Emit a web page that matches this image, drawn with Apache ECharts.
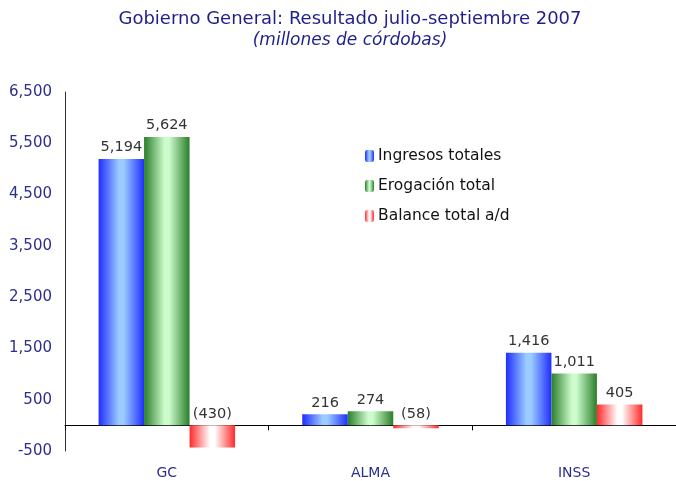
<!DOCTYPE html>
<html>
<head>
<meta charset="utf-8">
<script src="https://cdn.jsdelivr.net/npm/echarts@6/dist/echarts.min.js"></script>
<style>
  html, body { margin: 0; padding: 0; background: #fff; }
  #chart { width: 676px; height: 481px; }
</style>
</head>
<body>
<div id="chart"></div>
<script>
const categories = ['GC', 'ALMA', 'INSS'];
const ingresos = [5194, 216, 1416];
const erogacion = [5624, 274, 1011];
const balance = [-430, -58, 405];
const seriesNames = ['Ingresos totales', 'Erogación total', 'Balance total a/d'];

const font = 'DejaVu Sans';

// horizontal "cylinder" shading like the original spreadsheet chart
const shade = (edge, mid) => new echarts.graphic.LinearGradient(0, 0, 1, 0, [
    { offset: 0, color: edge },
    { offset: 0.45, color: mid },
    { offset: 0.55, color: mid },
    { offset: 1, color: edge }
]);

const fmt = (p) => {
    const v = p.value;
    const s = Math.abs(v).toLocaleString('en-US');
    return v < 0 ? '(' + s + ')' : s;
};

const barLabel = {
    show: true,
    position: 'top',
    distance: 4,
    formatter: fmt,
    color: '#333',
    fontFamily: font,
    fontSize: 14.5
};

const chart = echarts.init(document.getElementById('chart'));
chart.setOption({
    animation: false,
    title: {
        text: 'Gobierno General: Resultado julio-septiembre 2007',
        subtext: '(millones de córdobas)',
        left: 345,
        textAlign: 'center',
        top: 5,
        itemGap: 4,
        textStyle: { color: '#1f1f8a', fontFamily: font, fontSize: 18, fontWeight: 'normal' },
        subtextStyle: { color: '#1f1f8a', fontFamily: font, fontSize: 17, fontStyle: 'italic' }
    },
    legend: {
        orient: 'vertical',
        left: 360,
        top: 143,
        itemWidth: 9,
        itemHeight: 12,
        itemGap: 14,
        textStyle: { color: '#111', fontFamily: font, fontSize: 15.5, padding: [0, 0, 0, -1] },
        data: seriesNames
    },
    grid: { left: 65, right: -3, top: 92, bottom: 30 },
    xAxis: [
        {
            type: 'category',
            data: categories,
            axisLine: { onZero: true, lineStyle: { color: '#000', width: 1 } },
            axisTick: { show: true, length: 5, lineStyle: { color: '#000' } },
            axisLabel: { show: false }
        },
        {
            type: 'category',
            data: categories,
            position: 'bottom',
            axisLine: { show: false, onZero: false },
            axisTick: { show: false },
            axisLabel: { color: '#2e2e8f', fontFamily: font, fontSize: 14, margin: 15 }
        }
    ],
    yAxis: {
        type: 'value',
        min: -500,
        max: 6500,
        interval: 1000,
        axisLine: { show: true, lineStyle: { color: '#333', width: 1 } },
        axisTick: { show: false },
        splitLine: { show: false },
        axisLabel: {
            color: '#2e2e8f',
            fontFamily: font,
            fontSize: 15,
            margin: 13,
            formatter: (v) => v.toLocaleString('en-US')
        }
    },
    series: [
        {
            name: seriesNames[0],
            type: 'bar',
            data: ingresos,
            barGap: '0%',
            barCategoryGap: '33%',
            itemStyle: { color: shade('#1f2dff', '#9cccff') },
            label: barLabel
        },
        {
            name: seriesNames[1],
            type: 'bar',
            data: erogacion,
            itemStyle: { color: shade('#2a7d2a', '#ccfccc') },
            label: barLabel
        },
        {
            name: seriesNames[2],
            type: 'bar',
            data: balance,
            itemStyle: { color: shade('#ff2a2a', '#ffffff') },
            label: barLabel
        }
    ]
});
</script>
</body>
</html>
